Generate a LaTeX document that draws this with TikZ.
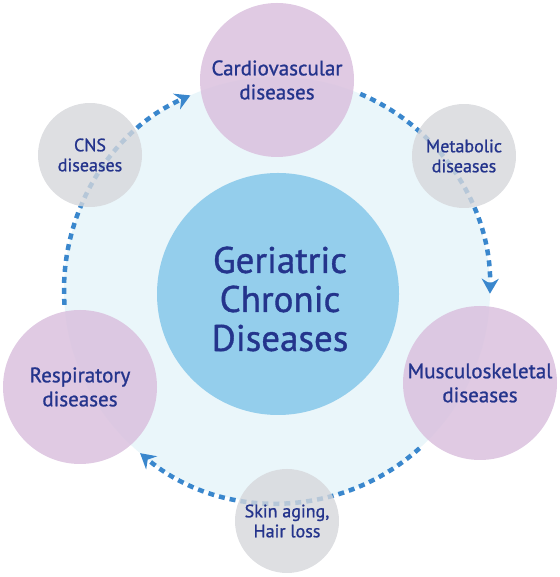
\documentclass[tikz,border=0pt]{standalone}
\usepackage{fontspec}
\setmainfont{PT Sans}
\newfontfamily\labelfont{PT Sans}[FakeBold=1]
\usetikzlibrary{arrows.meta}

\definecolor{ringfill}{RGB}{234,246,250}
\definecolor{corefill}{RGB}{148,206,236}
\definecolor{mainfill}{RGB}{218,193,222}
\definecolor{sidefill}{RGB}{214,215,219}
\definecolor{flowblue}{RGB}{58,135,205}
\definecolor{labelblue}{RGB}{36,52,140}

\begin{document}
\begin{tikzpicture}[
      x=1pt, y=1pt,
      major/.style={circle, fill=mainfill, fill opacity=0.85, text opacity=1, minimum size=154pt, inner sep=0pt, align=center, text=labelblue, font=\labelfont\fontsize{21}{24}\selectfont},
      minor/.style={circle, fill=sidefill, fill opacity=0.8, text opacity=1, minimum size=104pt, inner sep=0pt, align=center, text=labelblue, font=\labelfont\fontsize{18}{20}\selectfont},
      flow/.style={flowblue, line width=4.5pt, dash pattern=on 6pt off 5pt, -{Stealth[length=15pt, width=17pt, inset=5pt]}}
    ]
    \useasboundingbox (0,0) rectangle (559,577);

    % Ring and core
    \node[circle, fill=ringfill, minimum size=426pt, inner sep=0pt, outer sep=0pt] (ring) at (277,287) {};
    \node[circle, fill=corefill, minimum size=242pt, inner sep=0pt] (core) at (278,283) {};
    \node[align=center, text=labelblue, font=\labelfont\fontsize{37}{39}\selectfont] (title) at ([xshift=2pt, yshift=-5pt]core.center) {Geriatric\\Chronic\\Diseases};

    % Dashed flow along the ring
    \draw[flow] (ring.184) arc[start angle=184, end angle=114, radius=213];
    \draw[flow] (ring.67) arc[start angle=67, end angle=-1, radius=213];
    \draw[flow] (ring.-48) arc[start angle=-48, end angle=-130, radius=213];

    % Disease groups
    \node[major] (cardio) at (277,497) {Cardiovascular\\diseases};
    \node[minor] (metab) at (464,421) {Metabolic\\diseases};
    \node[major] (musculo) at (480,194) {Musculoskeletal\\diseases};
    \node[minor] (skin) at (287,56) {Skin aging,\\Hair loss};
    \node[major] (resp) at (80,190) {Respiratory\\diseases};
    \node[minor] (cns) at (90,422) {CNS\\diseases};
  \end{tikzpicture}
\end{document}
